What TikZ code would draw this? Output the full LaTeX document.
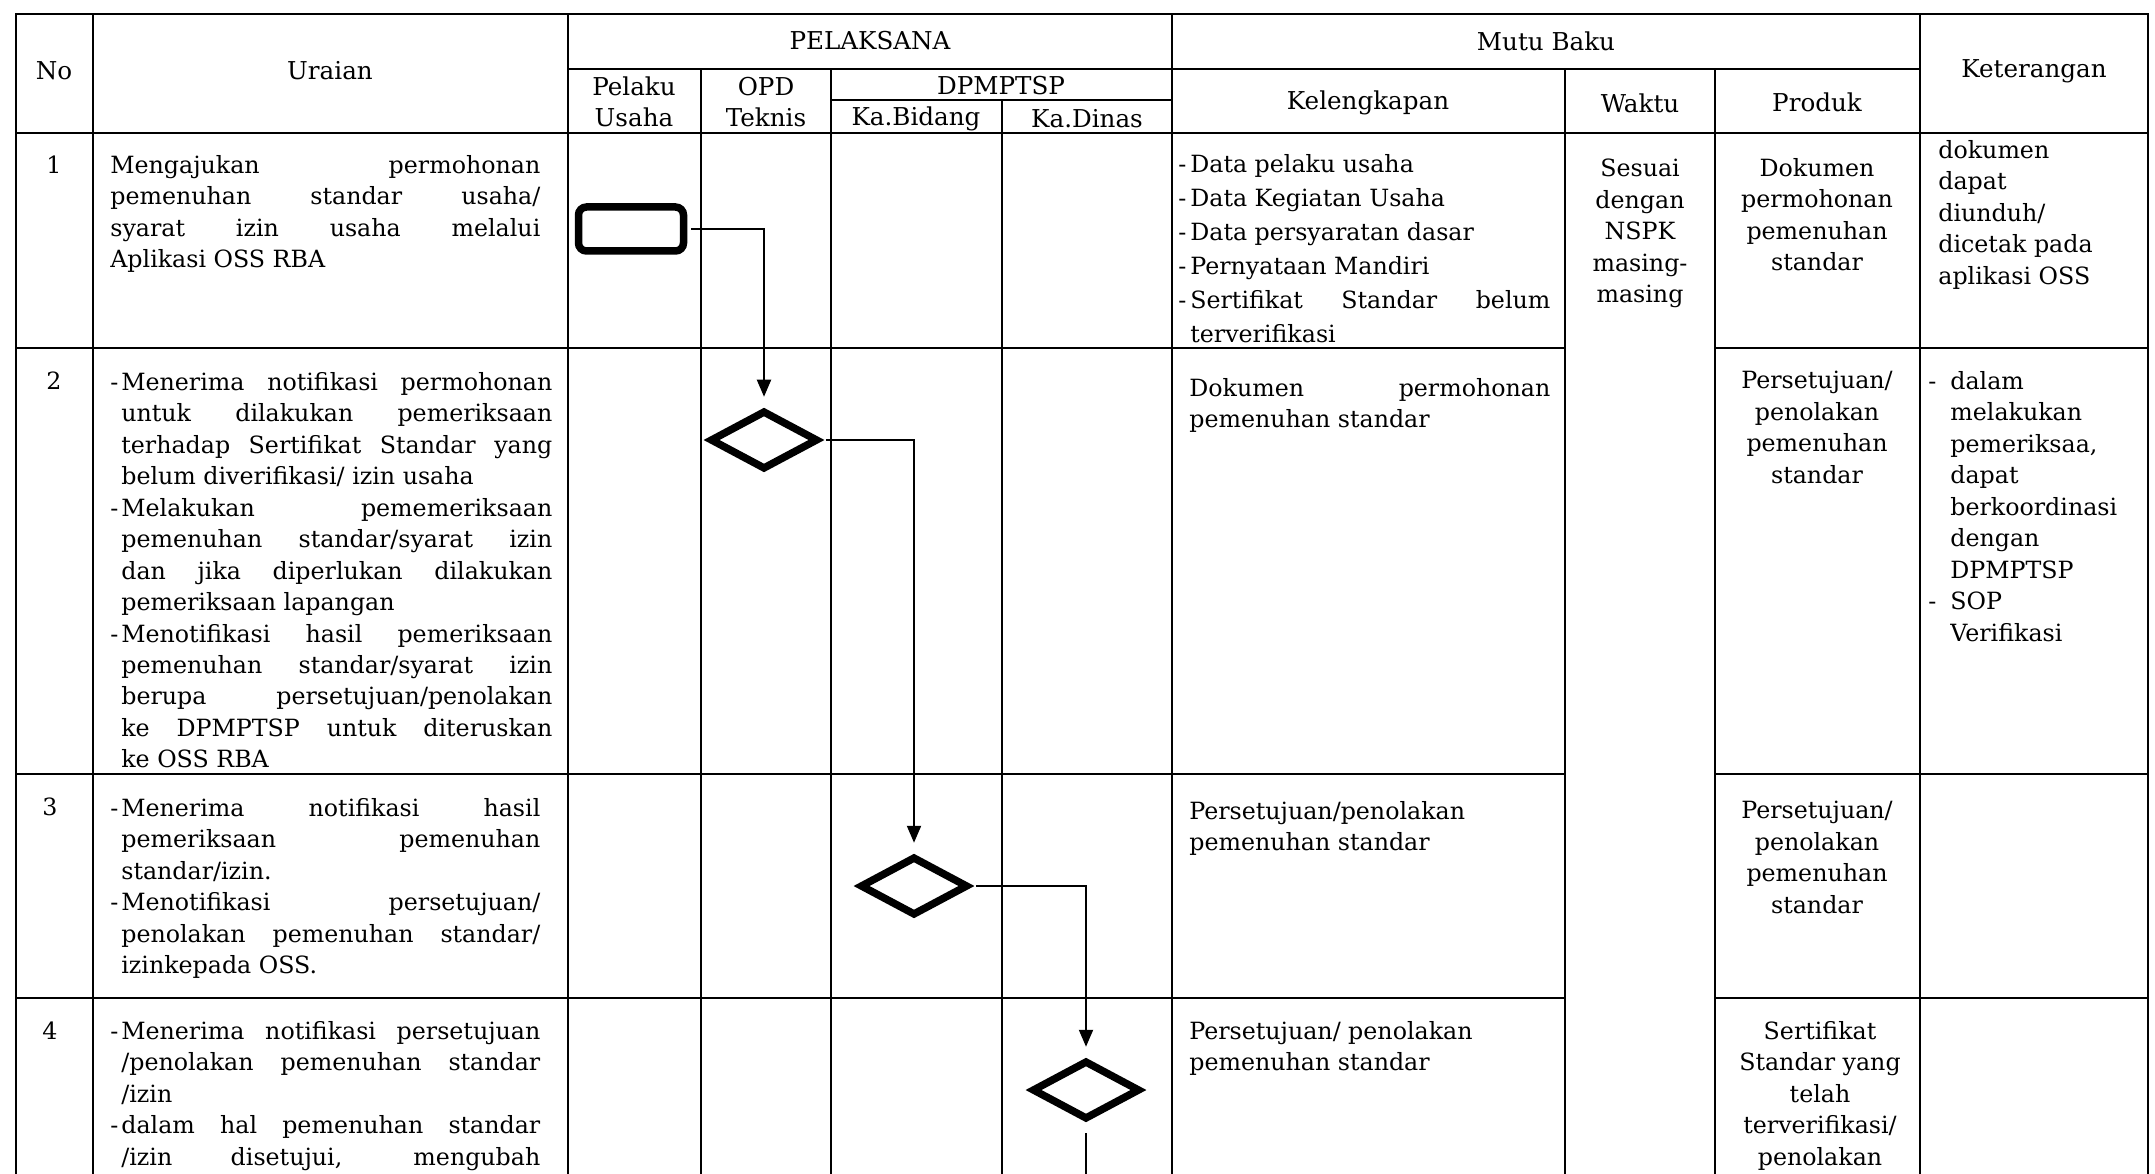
\documentclass[tikz,border=0pt]{standalone}
\usepackage{fontspec}
\setmainfont{DejaVu Serif}
\usetikzlibrary{shapes.geometric, arrows.meta}
\setlength{\parindent}{0pt}
\tolerance=10000
\hbadness=10000
\newcommand{\hurufkepala}{\fontsize{14pt}{17.6pt}\selectfont}
\newcommand{\hurufisi}{\fontsize{13.5pt}{17.9pt}\selectfont}
\newcommand{\hurufbaku}{\fontsize{13.5pt}{19.4pt}\selectfont}
\newcommand{\butir}[2][2.2mm]{\hangindent=#1\hangafter=1\makebox[#1][l]{-}#2\par}
\tikzstyle{garis} = [line width=0.4mm]
\tikzstyle{kepala} = [font=\hurufkepala, align=center, inner sep=0pt]
\tikzstyle{nomor} = [font=\hurufisi, inner sep=0pt]
\tikzstyle{isi} = [anchor=north west, inner sep=0pt, font=\hurufisi, align=justify]
\tikzstyle{tengah} = [anchor=north, inner sep=0pt, font=\hurufisi, align=center]
\tikzstyle{kiri} = [anchor=north west, inner sep=0pt, font=\hurufisi, align=left]
\tikzstyle{terminal} = [rectangle, rounded corners=1.6mm, minimum width=21mm, minimum height=8.8mm, inner sep=0pt, draw=black, line width=1.5mm]
\tikzstyle{keputusan} = [diamond, minimum width=21.6mm, minimum height=11.8mm, inner sep=0pt, draw=black, line width=1.5mm]
\tikzstyle{arrow} = [line width=0.4mm, -{Triangle[length=3.4mm,width=2.8mm]}, shorten <=0.8mm, shorten >=2mm]

\begin{document}
\begin{tikzpicture}[x=0.2mm, y=-0.2mm]
        \useasboundingbox (0,0) rectangle (2155,1174);
        \fill [white] (0,0) rectangle (2155,1174);
        \clip (0,0) rectangle (2155,1174);

        % garis tabel
        \draw [garis] (16,14) rectangle (2148,1250);
        \foreach \x in {93,568,1172,1920} \draw [garis] (\x,14) -- (\x,1250);
        \foreach \x in {701,831,1565,1715} \draw [garis] (\x,69) -- (\x,1250);
        \draw [garis] (1002,100) -- (1002,1250);
        \draw [garis] (568,69) -- (1920,69);
        \draw [garis] (831,100) -- (1172,100);
        \draw [garis] (16,133) -- (2148,133);
        \foreach \y in {348,774,998} {
            \draw [garis] (16,\y) -- (1565,\y);
            \draw [garis] (1715,\y) -- (2148,\y);
        }

        % kepala tabel
        \node (hno) [kepala] at (54,71) {No};
        \node (huraian) [kepala] at (330,71) {Uraian};
        \node (hpelaksana) [kepala] at (870,41) {PELAKSANA};
        \node (hpelaku) [kepala] at (634,102) {Pelaku\\Usaha};
        \node (hopd) [kepala] at (766,102) {OPD\\Teknis};
        \node (hdpmptsp) [kepala] at (1001,86) {DPMPTSP};
        \node (hbidang) [kepala] at (916,119) {Ka.Bidang};
        \node (hdinas) [kepala] at (1087,119) {Ka.Dinas};
        \node (hmutu) [kepala] at (1546,41) {Mutu Baku};
        \node (hlengkap) [kepala] at (1368,103) {Kelengkapan};
        \node (hwaktu) [kepala] at (1640,103) {Waktu};
        \node (hproduk) [kepala] at (1817,102) {Produk};
        \node (hket) [kepala] at (2034,71) {Keterangan};

        % nomor
        \node (no1) [nomor] at (54,165) {1};
        \node (no2) [nomor] at (54,381) {2};
        \node (no3) [nomor] at (50,807) {3};
        \node (no4) [nomor] at (50,1031) {4};

        % uraian
        \node (uraian1) [isi, text width=86mm] at (110,155) {Mengajukan permohonan \linebreak pemenuhan standar usaha/ \linebreak syarat izin usaha melalui \linebreak Aplikasi OSS RBA};
        \node (uraian2) [isi, text width=88.4mm] at (110,372) {\butir{Menerima notifikasi permohonan \linebreak untuk dilakukan pemeriksaan \linebreak terhadap Sertifikat Standar yang \linebreak belum diverifikasi/ izin usaha}\butir{Melakukan pememeriksaan \linebreak pemenuhan standar/syarat izin \linebreak dan jika diperlukan dilakukan \linebreak pemeriksaan lapangan}\butir{Menotifikasi hasil pemeriksaan \linebreak pemenuhan standar/syarat izin \linebreak berupa persetujuan/penolakan \linebreak ke DPMPTSP untuk diteruskan \linebreak ke OSS RBA}};
        \node (uraian3) [isi, text width=86mm] at (110,798) {\butir{Menerima notifikasi hasil \linebreak pemeriksaan pemenuhan \linebreak standar/izin.}\butir{Menotifikasi persetujuan/ \linebreak penolakan pemenuhan standar/ \linebreak izinkepada OSS.}};
        \node (uraian4) [isi, text width=86mm] at (110,1021) {\butir{Menerima notifikasi persetujuan \linebreak /penolakan pemenuhan standar \linebreak /izin}\butir{dalam hal pemenuhan standar \linebreak /izin disetujui, mengubah \linebreak}};

        % kelengkapan
        \node (lengkap1) [isi, text width=74.4mm, font=\hurufbaku] at (1178,154) {\butir[2.4mm]{Data pelaku usaha}\butir[2.4mm]{Data Kegiatan Usaha}\butir[2.4mm]{Data persyaratan dasar}\butir[2.4mm]{Pernyataan Mandiri}\butir[2.4mm]{Sertifikat Standar belum \linebreak terverifikasi}};
        \node (lengkap2) [isi, text width=72.2mm] at (1189,378) {Dokumen permohonan \linebreak pemenuhan standar};
        \node (lengkap3) [kiri] at (1189,801) {Persetujuan/penolakan\\pemenuhan standar};
        \node (lengkap4) [kiri] at (1189,1021) {Persetujuan/ penolakan\\pemenuhan standar};

        % waktu
        \node (waktu) [tengah] at (1640,159) {Sesuai\\dengan\\NSPK\\masing-\\masing};

        % produk
        \node (produk1) [tengah] at (1817,158) {Dokumen\\permohonan\\pemenuhan\\standar};
        \node (produk2) [tengah] at (1817,371) {Persetujuan/\\penolakan\\pemenuhan\\standar};
        \node (produk3) [tengah] at (1817,801) {Persetujuan/\\penolakan\\pemenuhan\\standar};
        \node (produk4) [tengah] at (1820,1021) {Sertifikat\\Standar yang\\telah\\terverifikasi/\\penolakan};

        % keterangan
        \node (ket1) [kiri] at (1938,140) {dokumen\\dapat\\diunduh/\\dicetak pada\\aplikasi OSS};
        \node (ket2) [kiri, text width=43mm] at (1928,371) {\butir[4.4mm]{dalam\newline melakukan\newline pemeriksaa,\newline dapat\newline berkoordinasi\newline dengan\newline DPMPTSP}\butir[4.4mm]{SOP\newline Verifikasi}};

        % alur
        \node (start) [terminal] at (631,229) {};
        \node (opd) [keputusan] at (764,440) {};
        \node (bidang) [keputusan] at (914,886) {};
        \node (dinas) [keputusan] at (1086,1090) {};
        \coordinate (lanjut) at (1086,1250);

        \draw [arrow] (start.east) -| (opd.north);
        \draw [arrow] (opd.east) -| (bidang.north);
        \draw [arrow] (bidang.east) -| (dinas.north);
        \draw [line width=0.4mm, shorten <=2mm] (dinas.south) -- (lanjut);
    \end{tikzpicture}
\end{document}
